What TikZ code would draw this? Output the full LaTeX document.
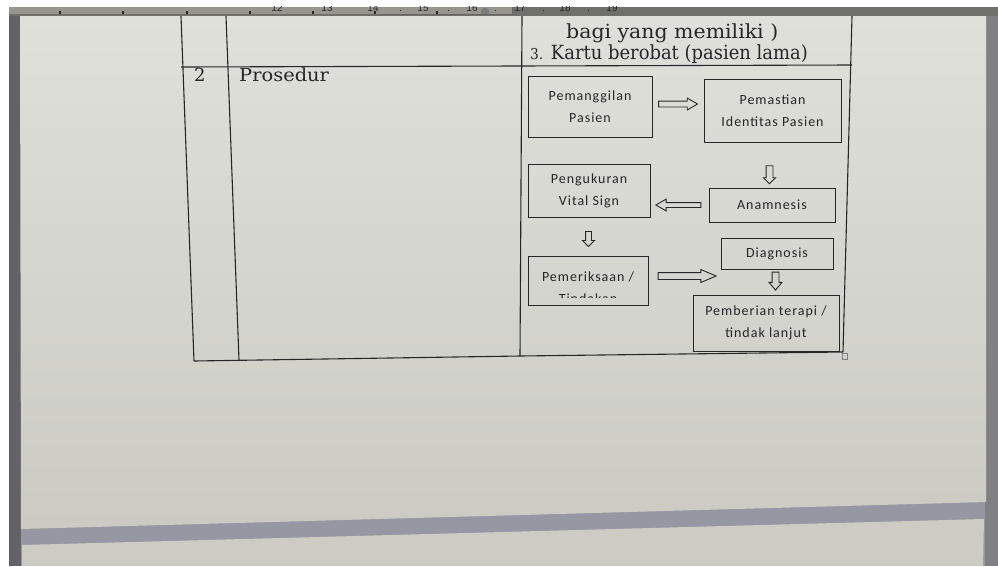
\documentclass[tikz,border=0pt]{standalone}
\usepackage{fontspec}
\setmainfont{DejaVu Serif}
\newfontfamily\flowfont[LetterSpace=7]{Carlito}
\newfontfamily\rulerfont{Liberation Sans}
\usetikzlibrary{shapes.arrows,calc}
\definecolor{pagetop}{RGB}{224,224,219}
\definecolor{pagebot}{RGB}{203,203,196}
\definecolor{pagetwo}{RGB}{204,204,197}
\definecolor{gapc}{RGB}{150,151,163}
\definecolor{leftc}{RGB}{98,98,103}
\definecolor{rightc}{RGB}{128,128,131}
\definecolor{rulerlight}{RGB}{150,150,143}
\definecolor{rulerdark}{RGB}{112,112,106}
\definecolor{linec}{RGB}{38,38,38}
\tikzset{
  tabline/.style={draw=linec, line width=1.1pt},
  flowbox/.style={draw=linec, line width=1pt, rectangle, inner sep=0pt, align=center,
    font=\flowfont\fontsize{14}{22}\selectfont, text=linec},
  barrow/.style={single arrow, draw=linec, line width=0.9pt, inner xsep=0pt,
    minimum width=0pt, single arrow head indent=0pt},
  varrow/.style={barrow, inner ysep=0pt, shape border rotate=270},
  serift/.style={anchor=base west, text=linec, inner sep=0pt},
}
\begin{document}
\begin{tikzpicture}[x=1pt,y=-1pt]
\useasboundingbox (0,0) rectangle (998,566);
% backdrop
\fill[white] (0,0) rectangle (998,566);
\fill[gapc] (9,7) rectangle (998,566);
\fill[leftc] (9,7) rectangle (21,566);
\fill[rightc] (985,7) rectangle (998,566);
% pages
\shade[top color=pagetop, bottom color=pagebot] (20,16) -- (986,16) -- (986,502) -- (21,529) -- cycle;
\fill[pagetwo] (22,545) -- (984,519) -- (983,566) -- (22,566) -- cycle;
% ruler
\fill[rulerlight] (9,7) rectangle (512,14);
\fill[rulerdark] (9,14) rectangle (512,16);
\fill[rulerdark] (512,7) rectangle (998,16);
\draw[linec!70, line width=0.6pt] (380,14) -- (512,14) -- (512,7);
\fill[linec!60] (481,14) -- (481,10) -- (485,7.5) -- (489,10) -- (489,14) -- cycle;
\foreach \x in {60,123,187,250,313,375,437}
  \draw[linec, line width=1.1pt] (\x,11) -- (\x,14);
\foreach \x in {400,448,495,543,588}
  \draw[linec, line width=0.8pt] (\x,9.5) -- (\x,11);
\begin{scope}
  \clip (9,6.5) rectangle (998,16);
  \foreach \n/\x in {12/277,13/327,14/373,15/423,16/472,17/520,18/565,19/612}
    \node[font=\rulerfont\fontsize{10}{10}\selectfont, text=linec, inner sep=0pt] (r\n) at (\x,8) {\n};
\end{scope}
% table
\draw[tabline] (181,16) -- (194,361);
\draw[tabline] (226,16) -- (239,360);
\draw[tabline] (522,16) -- (520,356);
\draw[tabline] (852,16) -- (843,352);
\draw[tabline] (181,67) -- (852,65);
\draw[tabline] (194,361) -- (520,356) -- (843,352);
\draw[gray, line width=0.6pt] (842,353.5) rectangle (847,359);
% table texts
\node[serift, font=\fontsize{19.5}{22}\selectfont] (t1) at (566,38) {\scalebox{1.05}[1]{bagi yang memiliki )}};
\node[serift, font=\fontsize{19.5}{22}\selectfont] (t2) at (530,59) {\scalebox{0.92}[1]{{\fontsize{15}{15}\selectfont 3.} Kartu berobat (pasien lama)}};
\node[serift, font=\fontsize{18}{20}\selectfont] (n2) at (194,81) {2};
\node[serift, font=\fontsize{18}{20}\selectfont] (pr) at (239,81) {\scalebox{1.08}[1]{Prosedur}};
% flow boxes
\node[flowbox, minimum width=124pt, minimum height=61pt] (b1) at (590,106.5) {Pemanggilan\\Pasien};
\node[flowbox, minimum width=137pt, minimum height=63pt] (b2) at (772.5,110.5) {Pemastian\\Identitas Pasien};
\node[flowbox, minimum width=122pt, minimum height=53pt] (b3) at (589,191) {Pengukuran\\Vital Sign};
\node[flowbox, minimum width=126pt, minimum height=34pt] (b4) at (772,205) {Anamnesis};
\node[flowbox, minimum width=112pt, minimum height=31pt] (b5) at (777,253.5) {Diagnosis};
\node[flowbox, minimum width=120pt, minimum height=49pt] (b6) at (588,280.5) {};
\begin{scope}
  \clip (528,256) rectangle (648,297);
  \node[flowbox, draw=none, minimum width=0pt, minimum height=0pt] (b6t) at (588,288) {Pemeriksaan /\\Tindakan};
\end{scope}
\node[flowbox, minimum width=146pt, minimum height=56pt] (b7) at (766,323) {Pemberian terapi /\\tindak lanjut};
% block arrows
\node[barrow, inner ysep=2.5pt, minimum height=39pt, single arrow head extend=3pt, single arrow tip angle=60] (a1) at (675.5,104) {};
\node[varrow, inner xsep=3pt, minimum height=18pt, single arrow head extend=2.5pt, single arrow tip angle=90] (a2) at (769.5,173) {};
\node[barrow, inner ysep=2pt, minimum height=45pt, single arrow head extend=3.5pt, single arrow tip angle=60, shape border rotate=180] (a3) at (680.5,205) {};
\node[varrow, inner xsep=2.5pt, minimum height=15pt, single arrow head extend=3pt, single arrow tip angle=90] (a4) at (588.5,237.5) {};
\node[barrow, inner ysep=3pt, minimum height=58pt, single arrow head extend=3pt, single arrow tip angle=46] (a5) at (683,276) {};
\node[varrow, inner xsep=3pt, minimum height=18pt, single arrow head extend=3pt, single arrow tip angle=80] (a6) at (775.5,279) {};
\end{tikzpicture}
\end{document}
